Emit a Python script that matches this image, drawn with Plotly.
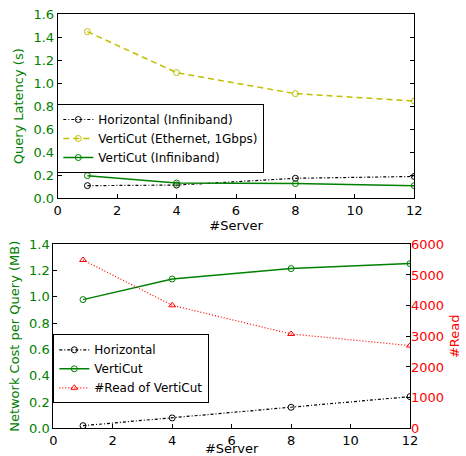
import plotly.graph_objects as go

servers = [1, 4, 8, 12]
# Top chart: query latency (s)
lat_horizontal_ib = [0.11, 0.115, 0.174, 0.19]
lat_verticut_eth = [1.449, 1.093, 0.91, 0.846]
lat_verticut_ib = [0.197, 0.133, 0.128, 0.11]
# Bottom chart: network cost per query (MB) and #Read
cost_horizontal = [0.02, 0.079, 0.16, 0.241]
cost_verticut = [0.979, 1.136, 1.215, 1.253]
reads_verticut = [5489, 4011, 3076, 2696]

W, H = 466, 456
GREEN = "#008000"
YELLOW = "#bfbf00"
RED = "#ff0000"
FONT = "DejaVu Sans"

def px(x):
    return x / W

def py(y):
    return 1 - y / H

fig = go.Figure()
mk = dict(symbol="circle-open", size=6, line=dict(width=1))

fig.add_trace(go.Scatter(x=servers, y=lat_horizontal_ib, name="Horizontal (Infiniband)",
                         mode="lines+markers", line=dict(color="black", width=1.2, dash="3px,2px,1px,2px"),
                         marker=dict(color="black", **mk), xaxis="x", yaxis="y", legend="legend"))
fig.add_trace(go.Scatter(x=servers, y=lat_verticut_eth, name="VertiCut (Ethernet, 1Gbps)",
                         mode="lines+markers", line=dict(color=YELLOW, width=1.5, dash="6px,4px"),
                         marker=dict(color=YELLOW, **mk), xaxis="x", yaxis="y", legend="legend"))
fig.add_trace(go.Scatter(x=servers, y=lat_verticut_ib, name="VertiCut (Infiniband)",
                         mode="lines+markers", line=dict(color=GREEN, width=1.5),
                         marker=dict(color=GREEN, **mk), xaxis="x", yaxis="y", legend="legend"))

fig.add_trace(go.Scatter(x=servers, y=cost_horizontal, name="Horizontal",
                         mode="lines+markers", line=dict(color="black", width=1.2, dash="3px,2px,1px,2px"),
                         marker=dict(color="black", **mk), xaxis="x2", yaxis="y2", legend="legend2"))
fig.add_trace(go.Scatter(x=servers, y=cost_verticut, name="VertiCut",
                         mode="lines+markers", line=dict(color=GREEN, width=1.5),
                         marker=dict(color=GREEN, **mk), xaxis="x2", yaxis="y2", legend="legend2"))
fig.add_trace(go.Scatter(x=servers, y=reads_verticut, name="#Read of VertiCut",
                         mode="lines+markers", line=dict(color=RED, width=1.2, dash="1px,2px"),
                         marker=dict(color=RED, symbol="triangle-up-open", size=6, line=dict(width=1)),
                         xaxis="x2", yaxis="y3", legend="legend2"))

tickfont = dict(family=FONT, size=13, color="black")
common_x = dict(range=[0, 12], dtick=2, showline=True, linecolor="black", linewidth=1,
                ticks="inside", ticklen=4, tickcolor="black", mirror=True,
                showgrid=False, zeroline=False, tickfont=tickfont, automargin=False,
                title=dict(text="#Server", font=dict(family=FONT, size=13, color="black"), standoff=0))

top_x = [px(57.7), px(414.3)]
top_y = [py(198.3), py(14.3)]
bot_x = [px(53.3), px(410)]
bot_y = [py(428.3), py(244.3)]

fig.update_layout(
    width=W, height=H,
    margin=dict(l=0, r=0, t=0, b=0),
    plot_bgcolor="white", paper_bgcolor="white",
    font=dict(family=FONT, size=12, color="black"),
    xaxis=dict(domain=top_x, anchor="y", **common_x),
    yaxis=dict(domain=top_y, anchor="x", range=[0, 1.6], dtick=0.2, tickformat=".1f",
               showline=True, linecolor="black", linewidth=1, ticks="inside", ticklen=4,
               tickcolor="black", mirror="ticks", showgrid=False, zeroline=False, automargin=False,
               tickfont=dict(family=FONT, size=13, color=GREEN),
               title=dict(text="Query Latency (s)", font=dict(family=FONT, size=13, color=GREEN), standoff=6)),
    xaxis2=dict(domain=bot_x, anchor="y2", **common_x),
    yaxis2=dict(domain=bot_y, anchor="x2", range=[0, 1.4], dtick=0.2, tickformat=".1f",
                showline=True, linecolor="black", linewidth=1, ticks="inside", ticklen=4,
                tickcolor="black", mirror=True, showgrid=False, zeroline=False, automargin=False,
                tickfont=dict(family=FONT, size=13, color=GREEN),
                title=dict(text="Network Cost per Query (MB)", font=dict(family=FONT, size=13, color=GREEN), standoff=6)),
    yaxis3=dict(overlaying="y2", side="right", anchor="x2", range=[0, 6000], dtick=1000,
                showline=False, ticks="inside", ticklen=4, tickcolor="black",
                showgrid=False, zeroline=False, automargin=False,
                tickfont=dict(family=FONT, size=13, color=RED),
                title=dict(text="#Read", font=dict(family=FONT, size=13, color=RED), standoff=6)),
    legend=dict(x=px(57.3), y=py(104), xanchor="left", yanchor="top",
                bgcolor="white", bordercolor="black", borderwidth=1,
                font=dict(family=FONT, size=12, color="black"), itemwidth=30,
                tracegroupgap=0),
    legend2=dict(x=px(53.3), y=py(334.3), xanchor="left", yanchor="top",
                 bgcolor="white", bordercolor="black", borderwidth=1,
                 font=dict(family=FONT, size=12, color="black"), itemwidth=30,
                 tracegroupgap=0),
)

fig.write_html("out.html", config={"displayModeBar": False},
               post_script="document.body.style.margin='0';")
